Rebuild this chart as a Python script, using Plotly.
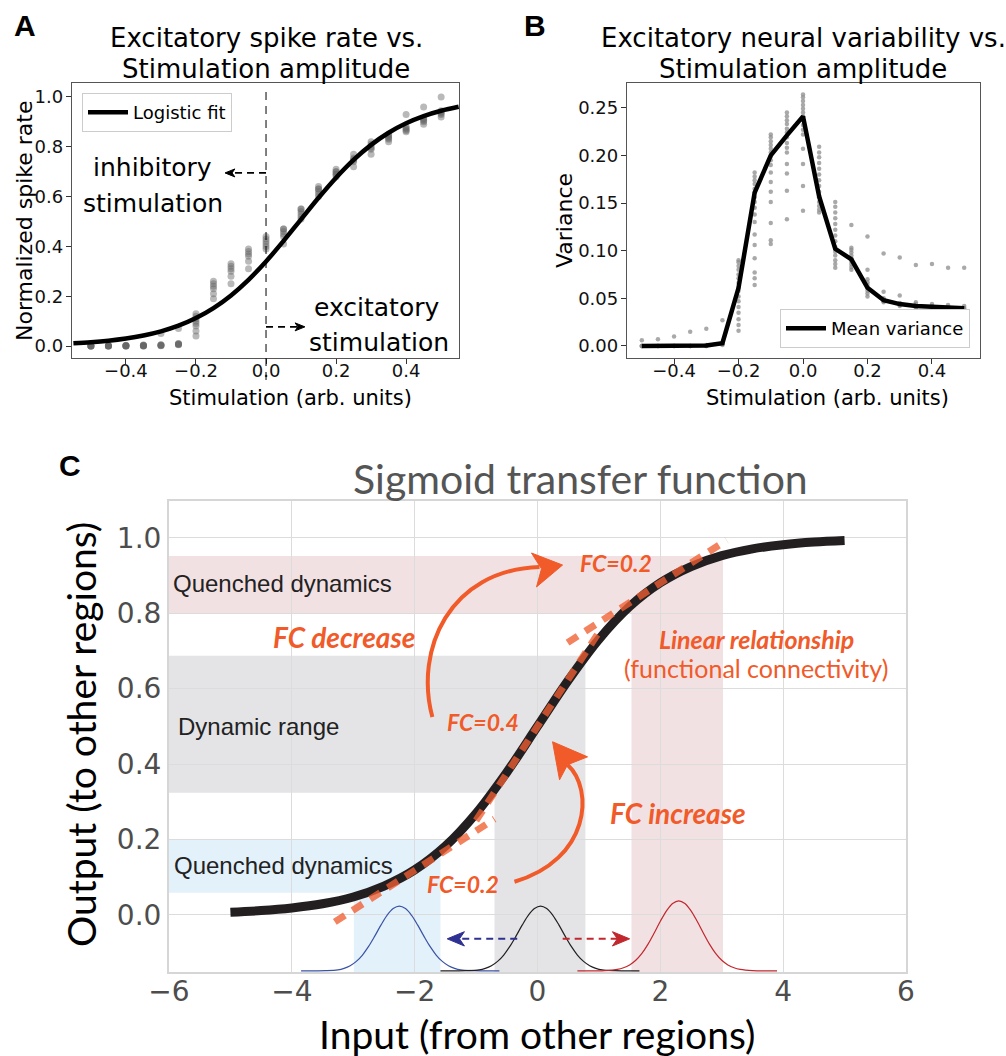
import plotly.graph_objects as go

W, H = 1006, 1056
def fx(p): return p / W
def fy(p): return 1 - p / H

# ---------------- Panel A data ----------------
stim_a = [-0.5, -0.45, -0.4, -0.35, -0.3, -0.25, -0.2, -0.15, -0.1, -0.05, 0.0,
          0.05, 0.1, 0.15, 0.2, 0.25, 0.3, 0.35, 0.4, 0.45, 0.5]
rate_trials = [
    [0.0, 0.0, 0.0, 0.0, 0.0, 0.002],
    [0.0, 0.0, 0.0, 0.0, 0.001, 0.002],
    [0.0, 0.0, 0.0, 0.001, 0.002, 0.003],
    [0.0, 0.0, 0.001, 0.002, 0.003, 0.004],
    [0.001, 0.002, 0.003, 0.004, 0.005, 0.05],
    [0.005, 0.006, 0.008, 0.008, 0.01, 0.07],
    [0.04, 0.06, 0.08, 0.09, 0.1, 0.11, 0.12, 0.13],
    [0.19, 0.21, 0.23, 0.24, 0.25, 0.26],
    [0.25, 0.28, 0.30, 0.31, 0.32, 0.33],
    [0.31, 0.34, 0.36, 0.37, 0.38, 0.39],
    [0.39, 0.40, 0.41, 0.42, 0.43, 0.44],
    [0.41, 0.44, 0.45, 0.46, 0.47, 0.47],
    [0.51, 0.52, 0.53, 0.54, 0.55, 0.55],
    [0.60, 0.61, 0.62, 0.63, 0.63, 0.64],
    [0.68, 0.69, 0.69, 0.70, 0.70, 0.71],
    [0.72, 0.74, 0.745, 0.75, 0.755, 0.77],
    [0.77, 0.79, 0.795, 0.80, 0.81, 0.82],
    [0.82, 0.83, 0.835, 0.84, 0.845, 0.85],
    [0.86, 0.865, 0.87, 0.875, 0.88, 0.93],
    [0.89, 0.90, 0.905, 0.91, 0.915, 0.96],
    [0.92, 0.93, 0.935, 0.94, 0.945, 1.0],
]
fit_x = [-0.55, -0.5, -0.45, -0.4, -0.35, -0.3, -0.25, -0.2, -0.15, -0.1, -0.05, 0.0,
         0.05, 0.1, 0.15, 0.2, 0.25, 0.3, 0.35, 0.4, 0.45, 0.5, 0.55]
fit_y = [0.0108, 0.0153, 0.0215, 0.0303, 0.0425, 0.0592, 0.0820, 0.1126, 0.1525, 0.2034,
         0.2660, 0.3396, 0.4219, 0.5087, 0.5951, 0.6759, 0.7474, 0.8077, 0.8563, 0.8943,
         0.9231, 0.9446, 0.9604]

# ---------------- Panel B data ----------------
stim_b = stim_a
var_trials = [
    [0.0, 0.0, 0.0, 0.006],
    [0.0, 0.0, 0.0, 0.007],
    [0.0, 0.0, 0.0, 0.010],
    [0.0, 0.0, 0.0, 0.015],
    [0.0, 0.0, 0.001, 0.018],
    [0.001, 0.002, 0.003, 0.027],
    [0.016, 0.022, 0.028, 0.035, 0.041, 0.047, 0.052, 0.058, 0.061, 0.066, 0.071, 0.075, 0.080, 0.084, 0.088, 0.090],
    [0.064, 0.071, 0.077, 0.092, 0.106, 0.117, 0.130, 0.138, 0.145, 0.151, 0.156, 0.161, 0.165, 0.170, 0.174, 0.178, 0.182],
    [0.107, 0.111, 0.129, 0.151, 0.162, 0.172, 0.182, 0.190, 0.195, 0.199, 0.203, 0.207, 0.211, 0.215, 0.219, 0.222],
    [0.133, 0.163, 0.181, 0.191, 0.203, 0.208, 0.213, 0.219, 0.224, 0.228, 0.233, 0.237, 0.241, 0.245],
    [0.142, 0.168, 0.191, 0.207, 0.222, 0.227, 0.232, 0.237, 0.241, 0.245, 0.249, 0.253, 0.257, 0.261, 0.264],
    [0.140, 0.143, 0.147, 0.151, 0.156, 0.162, 0.168, 0.174, 0.180, 0.186, 0.192, 0.198, 0.203, 0.209],
    [0.082, 0.086, 0.090, 0.095, 0.099, 0.104, 0.110, 0.116, 0.122, 0.128, 0.134, 0.140, 0.146, 0.151],
    [0.080, 0.083, 0.086, 0.089, 0.092, 0.095, 0.098, 0.101, 0.103, 0.127],
    [0.052, 0.055, 0.058, 0.061, 0.064, 0.067, 0.070, 0.080, 0.115],
    [0.046, 0.047, 0.048, 0.049, 0.050, 0.057, 0.097],
    [0.042, 0.043, 0.044, 0.045, 0.053, 0.093],
    [0.040, 0.041, 0.042, 0.044, 0.046, 0.085],
    [0.038, 0.039, 0.040, 0.042, 0.044, 0.086],
    [0.037, 0.038, 0.040, 0.041, 0.043, 0.082],
    [0.036, 0.037, 0.039, 0.040, 0.042, 0.082],
]
mean_var = [0.0, 0.0, 0.0, 0.0, 0.0005, 0.003, 0.061, 0.161, 0.200, 0.221, 0.241, 0.157,
            0.102, 0.091, 0.061, 0.048, 0.044, 0.042, 0.041, 0.0405, 0.0395]

# ---------------- Panel C data ----------------
sig_x = [-5, -4.5, -4, -3.5, -3, -2.5, -2, -1.5, -1, -0.5, 0, 0.5, 1, 1.5, 2, 2.5, 3, 3.5, 4, 4.5, 5]
sig_y = [0.0067, 0.011, 0.018, 0.029, 0.047, 0.076, 0.119, 0.182, 0.269, 0.378, 0.5,
         0.622, 0.731, 0.818, 0.881, 0.924, 0.953, 0.971, 0.982, 0.989, 0.993]
tan_low_x, tan_low_y = [-3.3, -0.7], [-0.019, 0.254]
tan_mid_x, tan_mid_y = [-1.0, 1.0], [0.25, 0.75]
tan_high_x, tan_high_y = [0.49, 3.08], [0.722, 0.994]

blue_x = [-3.85, -3.45, -3.25, -3.15, -3.05, -2.95, -2.85, -2.75, -2.65, -2.55, -2.45, -2.35, -2.25,
          -2.15, -2.05, -1.95, -1.85, -1.75, -1.65, -1.55, -1.45, -1.35, -1.25, -1.05, -0.62]
blue_y = [-0.149, -0.1485, -0.1464, -0.1424, -0.1354, -0.1239, -0.1069, -0.0841, -0.0568, -0.0277,
          -0.0017, 0.0164, 0.023, 0.0164, -0.0017, -0.0277, -0.0568, -0.0841, -0.1069, -0.1239,
          -0.1354, -0.1424, -0.1464, -0.1485, -0.149]
black_x = [-1.58, -1.15, -0.95, -0.85, -0.75, -0.65, -0.55, -0.45, -0.35, -0.25, -0.15, -0.05, 0.05,
           0.15, 0.25, 0.35, 0.45, 0.55, 0.65, 0.75, 0.85, 0.95, 1.05, 1.25, 1.66]
black_y = blue_y
red_x = [0.65, 1.1, 1.3, 1.4, 1.5, 1.6, 1.7, 1.8, 1.9, 2.0, 2.1, 2.2, 2.3,
         2.4, 2.5, 2.6, 2.7, 2.8, 2.9, 3.0, 3.1, 3.2, 3.3, 3.5, 3.9]
red_y = [-0.149, -0.1483, -0.1451, -0.1408, -0.1332, -0.1209, -0.1027, -0.0781, -0.0487, -0.0175,
         0.0104, 0.030, 0.037, 0.030, 0.0104, -0.0175, -0.0487, -0.0781, -0.1027, -0.1209,
         -0.1332, -0.1408, -0.1451, -0.1483, -0.149]

ORANGE = '#f15a29'
TAN = 'rgba(240,95,50,0.78)'

fig = go.Figure()

# ---- Panel A traces ----
ax_x, ax_y = [], []
for s, vals in zip(stim_a, rate_trials):
    for v in vals:
        ax_x.append(s); ax_y.append(v)
fig.add_trace(go.Scatter(x=ax_x, y=ax_y, mode='markers', xaxis='x', yaxis='y', showlegend=False,
                         marker=dict(color='rgba(100,100,100,0.45)', size=7, line=dict(width=0)),
                         hoverinfo='skip'))
fig.add_trace(go.Scatter(x=fit_x, y=fit_y, mode='lines', xaxis='x', yaxis='y', name='Logistic fit',
                         legend='legend', line=dict(color='black', width=4.5, shape='spline')))

# ---- Panel B traces ----
bx, by = [], []
for s, vals in zip(stim_b, var_trials):
    for v in vals:
        bx.append(s); by.append(v)
fig.add_trace(go.Scatter(x=bx, y=by, mode='markers', xaxis='x2', yaxis='y2', showlegend=False,
                         marker=dict(color='rgba(140,140,140,0.75)', size=4.5, line=dict(width=0)),
                         hoverinfo='skip'))
fig.add_trace(go.Scatter(x=stim_b, y=mean_var, mode='lines', xaxis='x2', yaxis='y2', name='Mean variance',
                         legend='legend2', line=dict(color='black', width=4.5)))

# ---- Panel C traces ----
for gx, gy, col in [(blue_x, blue_y, '#3953a4'), (black_x, black_y, '#231f20'), (red_x, red_y, '#c1272d')]:
    fig.add_trace(go.Scatter(x=gx, y=gy, mode='lines', xaxis='x3', yaxis='y3', showlegend=False,
                             line=dict(color=col, width=1.2, shape='spline'), hoverinfo='skip'))
fig.add_trace(go.Scatter(x=sig_x, y=sig_y, mode='lines', xaxis='x3', yaxis='y3', showlegend=False,
                         line=dict(color='#231f20', width=9, shape='spline'), hoverinfo='skip'))
for tx, ty in [(tan_low_x, tan_low_y), (tan_mid_x, tan_mid_y), (tan_high_x, tan_high_y)]:
    fig.add_trace(go.Scatter(x=tx, y=ty, mode='lines', xaxis='x3', yaxis='y3', showlegend=False,
                             line=dict(color=TAN, width=7, dash='12px,9px'), hoverinfo='skip'))
fig.add_trace(go.Scatter(x=[-0.33, -1.30], y=[-0.064, -0.064], mode='lines', xaxis='x3', yaxis='y3',
                         showlegend=False, line=dict(color='#2e3192', width=2, dash='7px,5px'), hoverinfo='skip'))
fig.add_trace(go.Scatter(x=[0.41, 1.32], y=[-0.064, -0.064], mode='lines', xaxis='x3', yaxis='y3',
                         showlegend=False, line=dict(color='#c1272d', width=2, dash='7px,5px'), hoverinfo='skip'))

shapes = []
def poly(pts):
    return 'M ' + ' L '.join(f'{a},{b}' for a, b in pts) + ' Z'
bands = [
    ([(-6, 0.80), (1.53, 0.80), (1.53, -0.155), (3.02, -0.155), (3.02, 0.952), (-6, 0.952)], '#f2e1e3'),
    ([(-6, 0.324), (-0.70, 0.324), (-0.70, -0.155), (0.78, -0.155), (0.78, 0.687), (-6, 0.687)], '#e4e4e6'),
    ([(-6, 0.058), (-2.99, 0.058), (-2.99, -0.155), (-1.58, -0.155), (-1.58, 0.20), (-6, 0.20)], '#e3f1fb'),
]
for pts, col in bands:
    shapes.append(dict(type='path', path=poly(pts), xref='x3', yref='y3', fillcolor=col,
                       line=dict(width=0), layer='below'))

shapes.append(dict(type='path', xref='x3', yref='y3', layer='above',
                   path='M -1.712,0.525 C -2.006,0.703 -1.435,0.915 0.033,0.923',
                   line=dict(color=ORANGE, width=4)))
shapes.append(dict(type='path', xref='x3', yref='y3', layer='above',
                   path=poly([(0.408, 0.928), (-0.098, 0.960), (0.065, 0.918), (-0.016, 0.870)]),
                   fillcolor=ORANGE, line=dict(color=ORANGE, width=1)))
shapes.append(dict(type='path', xref='x3', yref='y3', layer='above',
                   path='M -0.375,0.0875 C 0.848,0.146 0.929,0.332 0.489,0.398',
                   line=dict(color=ORANGE, width=4)))
shapes.append(dict(type='path', xref='x3', yref='y3', layer='above',
                   path=poly([(0.245, 0.459), (0.815, 0.419), (0.489, 0.398), (0.359, 0.358)]),
                   fillcolor=ORANGE, line=dict(color=ORANGE, width=1)))
shapes.append(dict(type='path', xref='x3', yref='y3', layer='above',
                   path=poly([(-1.47, -0.064), (-1.19, -0.045), (-1.27, -0.064), (-1.19, -0.083)]),
                   fillcolor='#2e3192', line=dict(color='#2e3192', width=1)))
shapes.append(dict(type='path', xref='x3', yref='y3', layer='above',
                   path=poly([(1.50, -0.064), (1.22, -0.045), (1.30, -0.064), (1.22, -0.083)]),
                   fillcolor='#c1272d', line=dict(color='#c1272d', width=1)))

shapes.append(dict(type='line', xref='x', yref='paper', x0=0, x1=0, y0=fy(380), y1=fy(88),
                   line=dict(color='black', width=1, dash='8px,6px')))
shapes.append(dict(type='line', xref='x', yref='y', x0=0, x1=-0.098, y0=0.695, y1=0.695,
                   line=dict(color='black', width=1.8, dash='7px,5px')))
shapes.append(dict(type='path', xref='x', yref='y',
                   path=poly([(-0.117, 0.695), (-0.089, 0.711), (-0.097, 0.695), (-0.089, 0.679)]),
                   fillcolor='black', line=dict(color='black', width=1)))
shapes.append(dict(type='line', xref='x', yref='y', x0=0, x1=0.092, y0=0.077, y1=0.077,
                   line=dict(color='black', width=1.8, dash='7px,5px')))
shapes.append(dict(type='path', xref='x', yref='y',
                   path=poly([(0.111, 0.077), (0.083, 0.093), (0.091, 0.077), (0.083, 0.061)]),
                   fillcolor='black', line=dict(color='black', width=1)))

DJ = 'DejaVu Sans'
LATO = 'Lato'
ann = []
def text(t, x, y, size, family=DJ, color='black', xanchor='center', textangle=0, bold=False, italic=False):
    if bold:
        t = f'<b>{t}</b>'
    if italic:
        t = f'<i>{t}</i>'
    ann.append(dict(text=t, x=fx(x), y=fy(y), xref='paper', yref='paper', showarrow=False,
                    xanchor=xanchor, yanchor='middle', textangle=textangle,
                    font=dict(family=family, size=size, color=color)))

text('A', 25, 25, 30, family='Liberation Sans', bold=True)
text('B', 535, 25, 30, family='Liberation Sans', bold=True)
text('C', 70, 465, 30, family='Liberation Sans', bold=True)
text('Excitatory spike rate vs.', 266, 38, 26)
text('Stimulation amplitude', 266, 69, 26)
text('Excitatory neural variability vs.', 803, 38, 26)
text('Stimulation amplitude', 803, 69, 26)
text('Stimulation (arb. units)', 290, 398, 21)
text('Stimulation (arb. units)', 827, 398, 21)
text('Normalized spike rate', 25, 221, 22, textangle=-90)
text('Variance', 565, 221, 22, textangle=-90)
text('inhibitory', 152, 167, 25)
text('stimulation', 153, 204, 25)
text('excitatory', 376, 307, 25)
text('stimulation', 379, 342, 25)
text('Sigmoid transfer function', 580, 478, 41, family=LATO, color='#555555')
text('Input (from other regions)', 537, 1034, 39, family=LATO)
text('Output (to other regions)', 81, 735, 39, family=LATO, textangle=-90)
text('Quenched dynamics', 171, 583, 24, family='Liberation Sans', color='#222', xanchor='left')
text('Dynamic range', 176, 726, 24, family='Liberation Sans', color='#222', xanchor='left')
text('Quenched dynamics', 172, 865, 24, family='Liberation Sans', color='#222', xanchor='left')
text('FC decrease', 344, 637, 28, family=LATO, color=ORANGE, bold=True, italic=True)
text('FC increase', 678, 813, 28, family=LATO, color=ORANGE, bold=True, italic=True)
text('FC=0.2', 616, 563, 23, family=LATO, color=ORANGE, bold=True, italic=True)
text('FC=0.4', 483, 722, 23, family=LATO, color=ORANGE, bold=True, italic=True)
text('FC=0.2', 463, 884, 23, family=LATO, color=ORANGE, bold=True, italic=True)
text('Linear relationship', 756, 639, 25, family=LATO, color=ORANGE, bold=True, italic=True)
text('(functional connectivity)', 756, 668, 25, family=LATO, color=ORANGE)

ab_axis = dict(ticks='outside', ticklen=5, tickwidth=1, tickcolor='#333', showline=True,
               linecolor='#555', linewidth=1.3, mirror=True, showgrid=False, zeroline=False,
               automargin=False, tickfont=dict(family=DJ, size=18, color='#111'))
c_axis = dict(ticks='', showline=True, linecolor='#d6d6d6', linewidth=2, mirror=True,
              showgrid=True, gridcolor='#dcdcdc', gridwidth=1.3, zeroline=False, automargin=False,
              tickfont=dict(family=DJ, size=28, color='#4d4d4d'))

fig.update_layout(
    width=W, height=H, margin=dict(l=0, r=0, t=0, b=0, pad=0, autoexpand=False),
    paper_bgcolor='white', plot_bgcolor='white',
    xaxis=dict(domain=[fx(72), fx(459)], range=[-0.554, 0.551], anchor='y', ticklabelstandoff=-9,
               tickvals=[-0.4, -0.2, 0, 0.2, 0.4], ticktext=['−0.4', '−0.2', '0.0', '0.2', '0.4'], **ab_axis),
    yaxis=dict(domain=[fy(358), fy(83)], range=[-0.048, 1.056], anchor='x', ticklabelstandoff=-1,
               tickvals=[0, 0.2, 0.4, 0.6, 0.8, 1.0], ticktext=['0.0', '0.2', '0.4', '0.6', '0.8', '1.0'], **ab_axis),
    xaxis2=dict(domain=[fx(627), fx(980)], range=[-0.546, 0.549], anchor='y2', ticklabelstandoff=-9,
                tickvals=[-0.4, -0.2, 0, 0.2, 0.4], ticktext=['−0.4', '−0.2', '0.0', '0.2', '0.4'], **ab_axis),
    yaxis2=dict(domain=[fy(358), fy(83)], range=[-0.0126, 0.276], anchor='x2', ticklabelstandoff=-1,
                tickvals=[0, 0.05, 0.1, 0.15, 0.2, 0.25],
                ticktext=['0.00', '0.05', '0.10', '0.15', '0.20', '0.25'], **ab_axis),
    xaxis3=dict(domain=[fx(169), fx(906)], range=[-6, 6], anchor='y3', ticklabelstandoff=-7,
                tickvals=[-6, -4, -2, 0, 2, 4, 6], ticktext=['−6', '−4', '−2', '0', '2', '4', '6'], **c_axis),
    yaxis3=dict(domain=[fy(972), fy(501)], range=[-0.152, 1.098], anchor='x3',
                tickvals=[0, 0.2, 0.4, 0.6, 0.8, 1.0], ticktext=['0.0', '0.2', '0.4', '0.6', '0.8', '1.0'], **c_axis),
    legend=dict(x=fx(82), y=fy(93), xanchor='left', yanchor='top', bgcolor='white',
                bordercolor='#cccccc', borderwidth=1, font=dict(family=DJ, size=18, color='black'),
                itemwidth=40),
    legend2=dict(x=fx(970), y=fy(348), xanchor='right', yanchor='bottom', bgcolor='white',
                 bordercolor='#cccccc', borderwidth=1, font=dict(family=DJ, size=18, color='black'),
                 itemwidth=40),
    shapes=shapes, annotations=ann,
)

fig.write_html('out.html', config={'displayModeBar': False},
               post_script="document.body.style.margin='0px';document.body.style.padding='0px';")
